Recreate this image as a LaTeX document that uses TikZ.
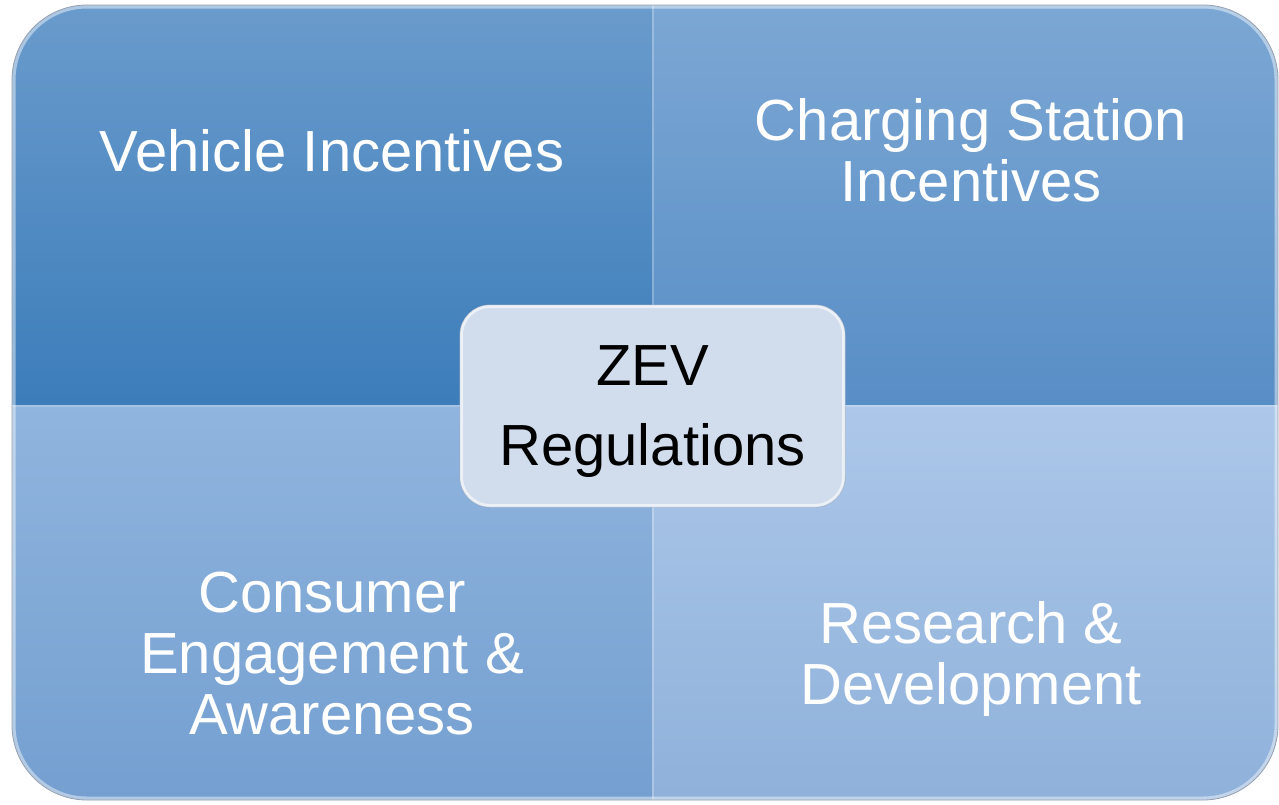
\documentclass[tikz,border=0pt]{standalone}
\usepackage{fontspec}
\setmainfont{Liberation Sans}
\begin{document}
\begin{tikzpicture}[x=1pt,y=-1pt,
  quadtext/.style={text=white,font=\fontsize{58}{61}\selectfont,align=center,anchor=base,inner sep=0pt},
  centerbox/.style={draw={rgb,255:red,160;green,172;blue,192},line width=0.8pt,fill={rgb,255:red,209;green,220;blue,236},
    rounded corners=30pt,minimum width=385pt,minimum height=202pt,inner sep=0pt},
  centertext/.style={font=\fontsize{58}{80}\selectfont,align=center,text=black,anchor=base,inner sep=0pt}]
\definecolor{tlTop}{RGB}{106,155,204}
\definecolor{tlBot}{RGB}{60,125,186}
\definecolor{trTop}{RGB}{124,167,212}
\definecolor{trBot}{RGB}{88,142,198}
\definecolor{blTop}{RGB}{144,181,222}
\definecolor{blBot}{RGB}{116,159,208}
\definecolor{brTop}{RGB}{172,199,233}
\definecolor{brBot}{RGB}{143,177,218}
\definecolor{edgeGray}{RGB}{150,160,175}
\useasboundingbox (0,0) rectangle (1279,804);
\fill[white] (0,0) rectangle (1279,804);
% quadrants, clipped to the outer rounded rectangle
\begin{scope}
  \clip[rounded corners=75pt] (12,5) rectangle (1278,800);
  \shade[top color=tlTop,bottom color=tlBot] (12,5) rectangle (652,405);
  \shade[top color=trTop,bottom color=trBot] (652,5) rectangle (1278,405);
  \shade[top color=blTop,bottom color=blBot] (12,405) rectangle (652,800);
  \shade[top color=brTop,bottom color=brBot] (652,405) rectangle (1278,800);
  % seams
  \draw[white,opacity=0.25,line width=1.2pt] (653,5) -- (653,800);
  \draw[white,opacity=0.2,line width=1.2pt] (12,406) -- (1278,406);
  % glossy inner edge
  \draw[white,opacity=0.45,line width=7pt,rounded corners=75pt] (12,5) rectangle (1278,800);
\end{scope}
\draw[edgeGray,line width=0.8pt,rounded corners=75pt] (12,5) rectangle (1278,800);
% texts (anchor base = baseline of the last line)
\node[quadtext] (veh) at (332,171) {Vehicle Incentives};
\node[quadtext] (chg) at (971,201) {Charging Station\\Incentives};
\node[quadtext] (con) at (332,734) {Consumer\\Engagement \&\\Awareness};
\node[quadtext] (res) at (971,704) {Research \&\\Development};
% center
\node[centerbox] (zev) at (652.5,406) {};
\begin{scope}
  \clip[rounded corners=30pt] (460,305) rectangle (845,507);
  \draw[white,opacity=0.6,line width=6pt,rounded corners=30pt] (460,305) rectangle (845,507);
\end{scope}
\node[centertext] (zevlbl) at (652.5,465) {ZEV\\Regulations};
\end{tikzpicture}
\end{document}
